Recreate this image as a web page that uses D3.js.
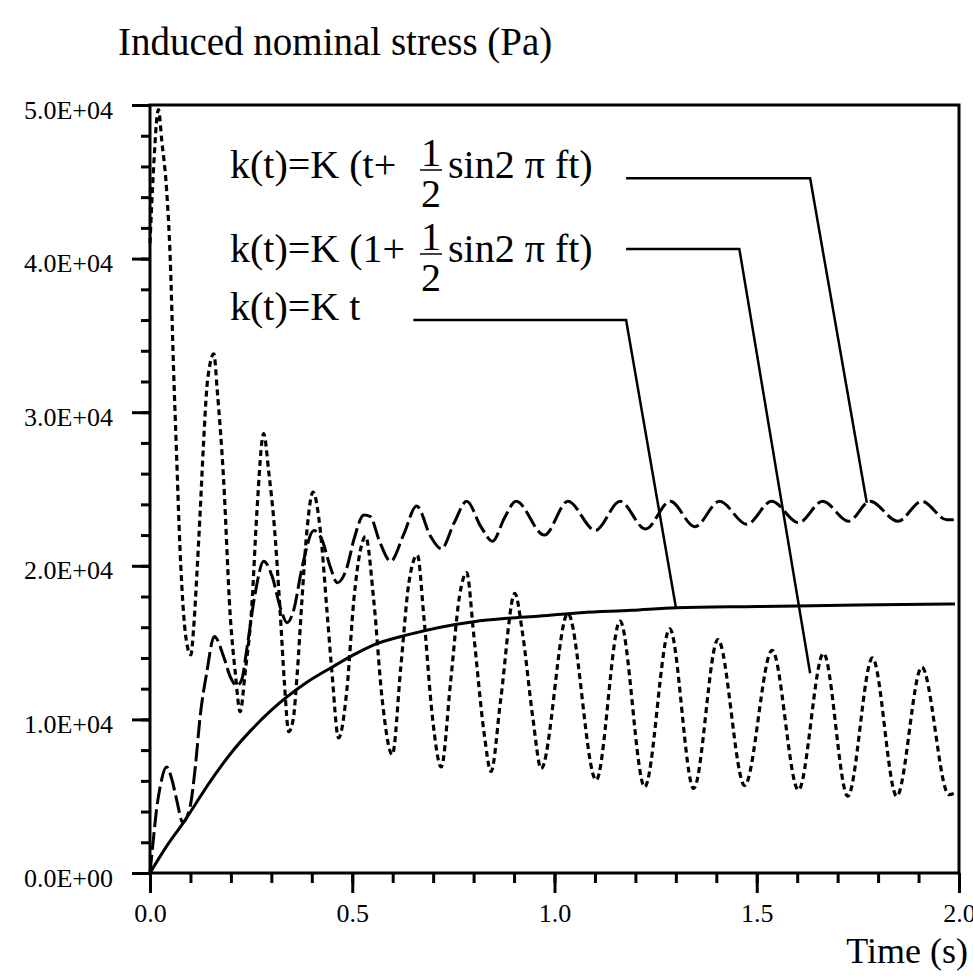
<!DOCTYPE html>
<html>
<head>
<meta charset="utf-8">
<script src="https://cdn.jsdelivr.net/npm/d3@7"></script>
<style>
	body { margin: 0; background: #fff; }
	text { font-family: "Liberation Serif", "Times New Roman", serif; fill: #000; }
</style>
</head>
<body>
<svg id="chart" width="973" height="978"></svg>
<script>
(function () {
	// k(t)=K t  (solid)
	const timeLinear = [0,0.04,0.083,0.15,0.2,0.25,0.3,0.387,0.45,0.503,0.552,0.636,0.718,0.80,0.882,0.964,1.066,1.19,1.301,1.5,1.75,1.99];
	const stressLinear = [0,1700,3300,6000,7800,9300,10600,12400,13400,14200,14840,15500,16000,16360,16580,16730,16950,17100,17270,17350,17450,17520];

	// k(t)=K (1+ 1/2 sin2 pi ft)  (short dashes)
	const timeConst = [0,0.008,0.021,0.029,0.041,0.05,0.058,0.066,0.074,0.083,0.092,0.101,0.108,0.116,0.124,0.132,0.142,0.158,0.166,0.182,0.198,0.211,0.223,0.235,0.252,0.264,0.281,0.294,0.306,0.322,0.332,0.343,0.354,0.364,0.375,0.388,0.403,0.421,0.438,0.45,0.466,0.487,0.504,0.52,0.533,0.553,0.574,0.599,0.62,0.64,0.661,0.677,0.698,0.72,0.743,0.765,0.783,0.80,0.826,0.843,0.867,0.902,0.921,0.946,0.967,1.033,1.103,1.162,1.223,1.285,1.344,1.404,1.47,1.538,1.603,1.665,1.725,1.786,1.846,1.908,1.975,1.99];
	const stressConst = [41000,45500,49700,47700,44500,40000,33000,27000,21200,16900,14800,14200,16000,19500,23500,27800,32000,33800,31500,25600,16900,13000,10500,13000,17500,23400,28600,26000,23000,16900,12500,9200,10000,13000,17500,22300,24800,22300,16900,13000,8800,12000,17800,21000,21900,17800,11300,7700,13400,18900,20700,16700,10200,6900,12400,18000,19550,15600,9100,6600,11300,18200,15600,10200,6800,16900,6050,16400,5600,15900,5500,15200,5700,14500,5400,14300,5000,14000,5000,13400,5100,5200];

	// k(t)=K (t+ 1/2 sin2 pi ft)  (long dashes)
	const timeRamp = [0,0.008,0.017,0.025,0.041,0.054,0.066,0.081,0.099,0.112,0.124,0.14,0.159,0.182,0.198,0.215,0.227,0.24,0.26,0.281,0.302,0.322,0.339,0.355,0.376,0.405,0.425,0.446,0.463,0.487,0.504,0.529,0.545,0.566,0.595,0.628,0.659,0.694,0.72,0.752,0.783,0.818,0.847,0.876,0.905,0.975,1.033,1.101,1.162,1.225,1.286,1.347,1.408,1.475,1.537,1.603,1.663,1.727,1.78,1.849,1.908,1.97,1.987];
	const stressRamp = [0,2100,4300,5600,6900,6100,4750,3300,4300,6900,10200,13000,15400,14100,12800,12200,12600,14700,18200,20300,19300,17300,16300,17100,19900,22300,21700,19900,18900,19900,21700,23300,23200,21700,20300,22100,23900,21900,21100,22800,24200,22550,21600,23100,24200,22000,24200,22300,24200,22400,24200,22550,24200,22700,24200,22800,24200,22900,24200,22900,24200,23000,23000];

	// leader lines (time, stress): label end -> elbow -> curve
	const leaderRamp = [[1.177,45230],[1.632,45230],[1.772,24110]];
	const leaderConst = [[1.177,40630],[1.457,40630],[1.632,13000]];
	const leaderLinear = [[0.651,36000],[1.177,36000],[1.300,17300]];

	const xMajor = [0,0.5,1.0,1.5,2.0];
	const yMajor = [0,10000,20000,30000,40000,50000];

	const svg = d3.select("#chart");
	const x = d3.scaleLinear().domain([0,2]).range([150,959]);
	const y = d3.scaleLinear().domain([0,50000]).range([873,105]);

	function zip(ts, vs){
		return ts.map(function(t,i){ return [t, vs[i]]; });
	}

	const line = d3.line()
		.x(function(d){ return x(d[0]); })
		.y(function(d){ return y(d[1]); })
		.curve(d3.curveMonotoneX);

	const leader = d3.line()
		.x(function(d){ return x(d[0]); })
		.y(function(d){ return y(d[1]); });

	// minor ticks
	svg.append("g")
		.attr("transform","translate(0,873)")
		.call(d3.axisBottom(x).tickValues(d3.range(0,2.01,0.1)).tickSize(10).tickFormat(""))
		.call(function(g){ g.select(".domain").remove(); });
	svg.append("g")
		.attr("transform","translate(150,0)")
		.call(d3.axisLeft(y).tickValues(d3.range(0,50001,2000)).tickSize(9).tickFormat(""))
		.call(function(g){ g.select(".domain").remove(); });

	// major ticks
	let xAxis = svg.append("g")
		.attr("transform","translate(0,873)")
		.call(d3.axisBottom(x).tickValues(xMajor).tickSize(20).tickPadding(11).tickFormat(d3.format(".1f")));
	xAxis.select(".domain").remove();
	xAxis.selectAll("text").attr("font-size",26).attr("font-family",null);

	let yAxis = svg.append("g")
		.attr("transform","translate(150,0)")
		.call(d3.axisLeft(y).tickValues(yMajor).tickSize(18).tickPadding(19)
			.tickFormat(function(d){
				return d==0 ? "0.0E+00" : (d/10000).toFixed(1) + "E+04";
			}));
	yAxis.select(".domain").remove();
	yAxis.selectAll("text").attr("font-size",26).attr("font-family",null).attr("dy","0.5em");

	svg.selectAll(".tick line").attr("stroke","#000").attr("stroke-width",3);

	// frame
	svg.append("rect")
		.attr("x",x(0)).attr("y",y(50000))
		.attr("width",x(2)-x(0)).attr("height",y(0)-y(50000))
		.attr("fill","none").attr("stroke","#000").attr("stroke-width",3);

	// curves
	svg.append("path")
		.datum(zip(timeLinear,stressLinear))
		.attr("d",line)
		.attr("fill","none").attr("stroke","#000").attr("stroke-width",3);

	svg.append("path")
		.datum(zip(timeRamp,stressRamp))
		.attr("d",line)
		.attr("fill","none").attr("stroke","#000").attr("stroke-width",3)
		.attr("stroke-dasharray","18,5");

	svg.append("path")
		.datum(zip(timeConst,stressConst))
		.attr("d",line)
		.attr("fill","none").attr("stroke","#000").attr("stroke-width",3.2)
		.attr("stroke-dasharray","6,4");

	// leader lines
	for(let l of [leaderRamp,leaderConst,leaderLinear]){
		svg.append("path")
			.attr("d",leader(l))
			.attr("fill","none").attr("stroke","#000").attr("stroke-width",2.5);
	}

	// labels
	function fraction(cx, base){
		svg.append("text").attr("x",cx).attr("y",base-12).attr("text-anchor","middle").attr("font-size",40).text("1");
		svg.append("text").attr("x",cx).attr("y",base+29).attr("text-anchor","middle").attr("font-size",40).text("2");
		svg.append("line").attr("x1",cx-11).attr("x2",cx+11).attr("y1",base-8).attr("y2",base-8)
			.attr("stroke","#000").attr("stroke-width",1.5);
	}

	svg.append("text").attr("x",230).attr("y",178).attr("font-size",40).text("k(t)=K (t+");
	fraction(431,178);
	svg.append("text").attr("x",448).attr("y",178).attr("font-size",40).text("sin2 \u03c0 ft)");

	svg.append("text").attr("x",230).attr("y",262).attr("font-size",40).text("k(t)=K (1+");
	fraction(431,262);
	svg.append("text").attr("x",448).attr("y",262).attr("font-size",40).text("sin2 \u03c0 ft)");

	svg.append("text").attr("x",230).attr("y",320).attr("font-size",40).text("k(t)=K t");

	// titles
	svg.append("text").attr("x",118).attr("y",55).attr("font-size",39).text("Induced nominal stress (Pa)");
	svg.append("text").attr("x",968).attr("y",963).attr("text-anchor","end").attr("font-size",36).text("Time (s)");
})();
</script>
</body>
</html>
